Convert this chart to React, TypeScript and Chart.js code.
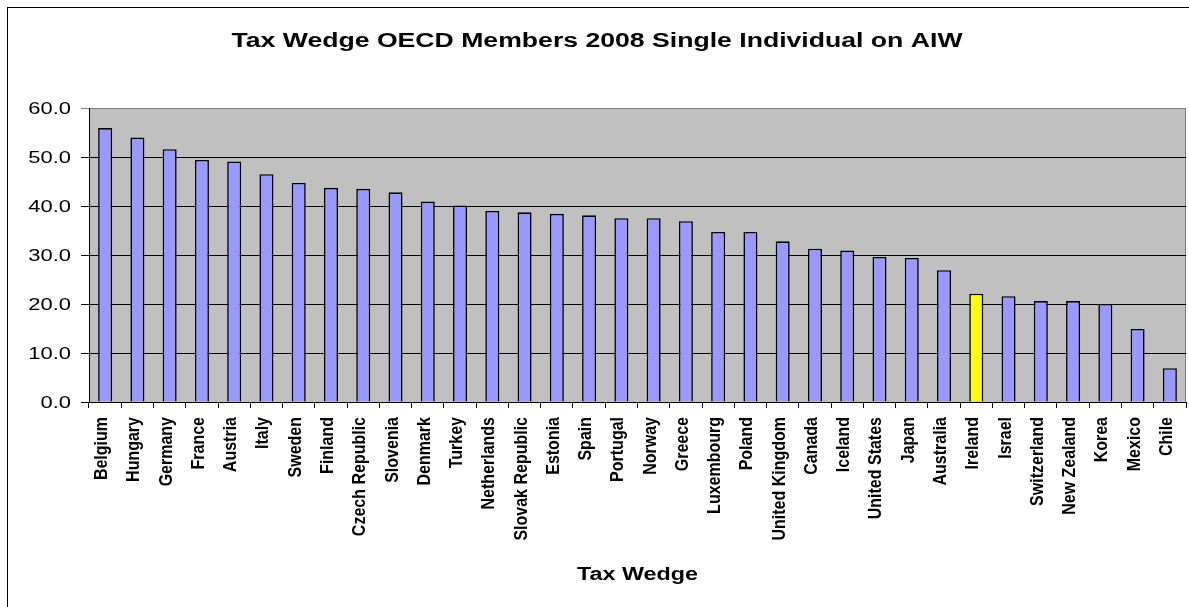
import React, { useEffect, useRef } from "react";
import { Chart, registerables } from "chart.js";

Chart.register(...registerables);

const countries: string[] = [
  "Belgium", "Hungary", "Germany", "France", "Austria", "Italy", "Sweden",
  "Finland", "Czech Republic", "Slovenia", "Denmark", "Turkey", "Netherlands",
  "Slovak Republic", "Estonia", "Spain", "Portugal", "Norway", "Greece",
  "Luxembourg", "Poland", "United Kingdom", "Canada", "Iceland", "United States",
  "Japan", "Australia", "Ireland", "Israel", "Switzerland", "New Zealand",
  "Korea", "Mexico", "Chile",
];

const taxWedge: number[] = [
  55.9, 54.0, 51.6, 49.4, 49.1, 46.5, 44.7,
  43.7, 43.5, 42.8, 40.9, 40.1, 39.0,
  38.7, 38.4, 38.1, 37.5, 37.5, 36.9,
  34.7, 34.7, 32.8, 31.3, 30.9, 29.6,
  29.4, 26.9, 22.1, 21.6, 20.6, 20.6,
  20.0, 14.9, 6.9,
];

const highlighted = "Ireland";
const yTickValues: number[] = [0, 10, 20, 30, 40, 50, 60];
const chartTitle = "Tax Wedge OECD Members 2008 Single Individual on AIW";
const xAxisTitle = "Tax Wedge";

const FONT = '"Liberation Sans", Arial, Helvetica, sans-serif';

function drawStretched(
  ctx: CanvasRenderingContext2D,
  text: string,
  x: number,
  y: number,
  font: string,
  align: "center" | "right",
  sx: number
) {
  ctx.save();
  ctx.font = font;
  ctx.fillStyle = "#000";
  ctx.textBaseline = "alphabetic";
  ctx.textAlign = align;
  ctx.translate(x, y);
  ctx.scale(sx, 1);
  ctx.fillText(text, 0, 0);
  ctx.restore();
}

export default function App() {
  const ref = useRef<HTMLCanvasElement>(null);

  useEffect(() => {
    const canvas = ref.current;
    if (!canvas) return;

    const decor = {
      id: "decor",
      beforeDraw(chart: any) {
        const { ctx, chartArea: a } = chart;
        ctx.save();
        ctx.fillStyle = "#ffffff";
        ctx.fillRect(0, 0, chart.width, chart.height);
        ctx.strokeStyle = "#000";
        ctx.lineWidth = 1;
        ctx.strokeRect(7.5, 7.5, chart.width + 40, chart.height + 40);
        ctx.fillStyle = "#C0C0C0";
        ctx.fillRect(a.left, a.top, a.right - a.left, a.bottom - a.top);
        ctx.strokeStyle = "#808080";
        ctx.strokeRect(a.left + 0.5, a.top + 0.5, a.right - a.left - 1, a.bottom - a.top);
        ctx.restore();
      },
      afterDraw(chart: any) {
        const { ctx, chartArea: a } = chart;
        // chart title
        const titleFont = `bold 20px ${FONT}`;
        ctx.save();
        ctx.font = titleFont;
        const tw = ctx.measureText(chartTitle).width;
        ctx.restore();
        drawStretched(ctx, chartTitle, 597, 47, titleFont, "center", 731 / tw);

        // x axis title
        const xtFont = `bold 18px ${FONT}`;
        ctx.save();
        ctx.font = xtFont;
        const xw = ctx.measureText(xAxisTitle).width;
        ctx.restore();
        drawStretched(ctx, xAxisTitle, (a.left + a.right) / 2, 580, xtFont, "center", 121 / xw);

        // y tick labels
        const yFont = `16px ${FONT}`;
        ctx.save();
        ctx.font = yFont;
        const yw = ctx.measureText("60.0").width;
        ctx.restore();
        const ys = chart.scales.y;
        yTickValues.forEach((v) => {
          const py = ys.getPixelForValue(v);
          drawStretched(ctx, v.toFixed(1), a.left - 18, py + 6, yFont, "right", 42.7 / yw);
        });

        // x category labels (rotated, reading bottom to top)
        const xs = chart.scales.x;
        ctx.save();
        ctx.font = `bold 16px ${FONT}`;
        ctx.fillStyle = "#000";
        ctx.textAlign = "right";
        ctx.textBaseline = "alphabetic";
        countries.forEach((label, i) => {
          const px = xs.getPixelForValue(i);
          ctx.save();
          ctx.translate(px + 2, a.bottom + 15);
          ctx.rotate(-Math.PI / 2);
          ctx.scale(1, 1.1);
          ctx.fillText(label, 0, 0);
          ctx.restore();
        });
        ctx.restore();
      },
    };

    const chart = new Chart(canvas, {
      type: "bar",
      data: {
        labels: countries,
        datasets: [
          {
            label: xAxisTitle,
            data: taxWedge,
            backgroundColor: countries.map((c) => (c === highlighted ? "#FFFF00" : "#9999FF")),
            borderColor: "#000000",
            borderWidth: 1.6,
            borderSkipped: "bottom",
            categoryPercentage: 1,
            barPercentage: 0.435,
          },
        ],
      },
      options: {
        responsive: false,
        animation: false,
        devicePixelRatio: 1,
        layout: { padding: { top: 108, right: 3, left: 0, bottom: 0 } },
        plugins: {
          legend: { display: false },
          title: { display: false },
          tooltip: { enabled: false },
        },
        scales: {
          x: {
            offset: true,
            grid: {
              offset: true,
              drawOnChartArea: false,
              drawTicks: true,
              tickLength: 6,
              color: "#000",
            },
            border: { color: "#000", width: 1 },
            ticks: { display: false, autoSkip: false },
            afterFit: (s: any) => {
              s.height = 205;
            },
          },
          y: {
            min: 0,
            max: 60,
            ticks: { stepSize: 10, display: false },
            grid: {
              color: (c: any) => (c.tick && c.tick.value === 60 ? "#808080" : "#000"),
              tickLength: 8,
              lineWidth: 1,
            },
            border: { color: "#000", width: 1 },
            afterFit: (s: any) => {
              s.width = 89;
            },
          },
        },
      },
      plugins: [decor],
    } as any);

    return () => chart.destroy();
  }, []);

  return (
    <div style={{ position: "fixed", left: 0, top: 0, width: 1189, height: 607, background: "#fff" }}>
      <canvas ref={ref} width={1189} height={607} style={{ display: "block" }} />
    </div>
  );
}
